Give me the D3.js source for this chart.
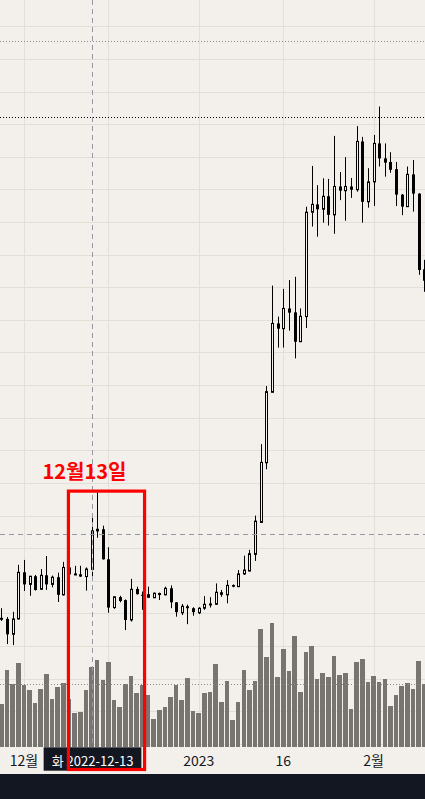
<!DOCTYPE html>
<html>
<head>
<meta charset="utf-8">
<script src="https://cdn.jsdelivr.net/npm/d3@7"></script>
<style>
  html, body { margin: 0; padding: 0; background: #f3f0eb; overflow: hidden; }
  svg { display: block; }
</style>
</head>
<body>
<svg width="425" height="799"></svg>
<script>
// daily candles, 2022-11-27 .. 2023-02-10
var firstDay = new Date(Date.UTC(2022, 10, 27));
var lastDay = new Date(Date.UTC(2023, 1, 10));

var open = [278.3,278.3,273.6,278.3,292.6,288.9,291.4,287.4,291.7,288.9,
  291.1,285.7,294.1,292.0,292.0,291.3,293.5,305.3,305.8,296.6,
  281.8,285.0,284.1,278.0,287.5,285.7,285.9,284.8,286.0,285.7,
  287.7,283.4,280.2,282.2,281.6,280.2,281.6,282.8,282.8,286.5,
  285.7,288.7,288.2,292.1,293.0,298.1,307.9,326.2,347.8,368.9,
  367.3,373.5,372.3,363.3,371.0,403.0,405.4,403.9,407.9,402.2,
  410.9,409.6,410.9,409.9,424.7,406.2,412.3,424.1,419.5,418.4,
  416.2,408.4,404.7,414.6,408.7,385.5];
var high = [281.6,278.9,280.5,294.9,296.4,291.5,291.8,293.6,297.6,291.6,
  292.5,295.8,294.2,294.6,294.6,294.1,309.7,317.1,306.9,300.3,
  285.2,285.4,284.3,290.6,288.2,286.7,288.2,286.4,286.4,288.2,
  288.6,283.5,282.9,282.7,281.9,281.9,285.3,285.0,289.2,287.2,
  290.2,288.9,293.3,297.7,299.5,310.0,331.9,349.7,380.5,371.0,
  379.5,382.2,383.2,373.5,404.7,417.2,411.3,413.4,413.2,426.4,
  415.3,419.9,413.5,429.4,426.1,416.5,426.7,435.4,424.1,421.4,
  418.4,408.6,417.0,419.0,408.8,388.4];
var low = [277.7,270.6,270.3,278.2,286.9,285.4,287.0,287.3,287.2,288.0,
  283.5,285.5,291.9,291.9,291.2,287.0,291.3,303.2,296.5,280.2,
  281.4,283.4,274.9,277.5,285.8,281.1,284.8,284.7,284.1,285.6,
  281.6,279.0,279.5,276.7,279.3,279.8,281.1,281.8,282.7,285.1,
  283.1,288.0,288.1,291.8,292.9,296.1,307.9,324.2,347.7,361.5,
  361.5,366.7,358.2,363.2,367.5,398.6,395.5,399.8,398.9,396.4,
  406.7,400.4,407.4,409.3,399.8,404.4,404.9,417.0,413.9,415.1,
  404.9,402.1,404.6,403.2,383.8,378.6];
var close = [278.5,273.6,278.3,292.6,288.9,291.4,287.2,291.7,288.9,291.1,
  285.7,294.1,292.0,292.1,291.3,293.6,305.3,305.8,296.6,281.8,
  285.1,283.8,278.0,287.4,285.9,285.6,284.8,286.2,286.1,287.7,
  283.4,280.4,282.2,281.6,280.4,281.6,282.8,282.9,286.5,285.7,
  288.6,288.2,292.1,293.3,298.3,308.3,326.3,348.0,368.9,367.3,
  373.5,372.2,363.3,371.1,403.0,405.4,403.9,407.9,402.2,410.9,
  409.6,410.9,409.9,424.7,406.2,412.3,424.1,419.5,418.2,416.0,
  408.4,404.7,414.6,408.7,385.3,382.0];
// volume, thousands
var volume = [42.7,76.7,63.0,83.7,61.7,56.7,43.7,57.7,72.7,47.7,
  59.7,64.0,47.7,33.7,34.7,56.7,79.7,86.7,66.7,84.7,
  46.7,39.7,62.7,70.7,53.7,61.7,51.7,27.7,36.7,39.7,
  49.7,61.7,46.7,68.7,35.7,33.7,53.7,54.7,82.7,44.7,
  65.7,26.7,44.7,76.7,56.7,65.7,117.7,89.7,123.7,69.7,
  97.7,75.7,110.7,54.7,94.7,100.7,67.7,73.7,69.7,90.7,
  71.7,73.7,37.7,84.7,87.7,64.7,70.7,64.7,67.7,40.7,
  51.7,60.7,63.7,57.7,85.7,62.7];

// vertical grid lines; the Dec 16 label sits under the crosshair label
var gridDates = ["2022-12-01", "2022-12-16", "2023-01-01", "2023-01-16", "2023-02-01"];
var tickDates = ["2022-12-01", "2023-01-01", "2023-01-16", "2023-02-01"];
var tickLabels = ["12월", "2023", "16", "2월"];

var levelGray = 455.4;    // dotted lines
var levelBlack = 432.1;
var crossDate = "2022-12-13";
var crossPrice = 304.2;
var crossDay = "화";
var crossLabel = "2022-12-13";
var noteText = "12월13일";
var noteFrom = 11.9, noteTo = 25.4, noteTop = 317.5;   // in day index / price

var svg = d3.select("svg");
var width = +svg.attr("width");
var height = +svg.attr("height");
var bg = "#f3f0eb";
var plotBottom = 746.7;
var axisBottom = 774;
var parse = d3.utcParse("%Y-%m-%d");
var axisFont = "'Liberation Sans Narrow', 'Noto Sans CJK KR', sans-serif";

var days = d3.utcDay.range(firstDay, d3.utcDay.offset(lastDay, 1));
var candles = days.map(function(d, i) {
  return {date: d, o: open[i], h: high[i], l: low[i], c: close[i], v: volume[i]};
});

var x = d3.scaleUtc().domain([firstDay, lastDay]).range([1.3, 424.3]);
var y = d3.scaleLinear().domain([240, 460]).range([743.9, 26.3]);
var yv = d3.scaleLinear().domain([0, 100]).range([plotBottom, 646.7]);
var px = function(d) { return Math.round(x(d)); };

svg.append("rect").attr("width", width).attr("height", height).attr("fill", bg);

// grid
svg.append("g")
  .selectAll("line")
  .data(d3.range(240, 470, 10))
  .enter().append("line")
  .attr("x1", 0).attr("x2", width)
  .attr("y1", function(d) { return Math.round(y(d)) + 0.5; })
  .attr("y2", function(d) { return Math.round(y(d)) + 0.5; })
  .attr("stroke", "#e2ded8");

svg.append("g")
  .selectAll("line")
  .data(gridDates)
  .enter().append("line")
  .attr("x1", function(d) { return px(parse(d)) + 0.5; })
  .attr("x2", function(d) { return px(parse(d)) + 0.5; })
  .attr("y1", 0).attr("y2", plotBottom)
  .attr("stroke", "#e2ded8");

// volume
svg.append("g")
  .selectAll("rect")
  .data(candles)
  .enter().append("rect")
  .attr("x", function(d) { return x(d.date) - 2.3; })
  .attr("width", 4.6)
  .attr("y", function(d) { return yv(d.v); })
  .attr("height", function(d) { return plotBottom - yv(d.v); })
  .attr("fill", "#787571")
  .attr("shape-rendering", "crispEdges");

svg.append("line")
  .attr("x1", 0).attr("x2", width)
  .attr("y1", Math.round(yv(volume[volume.length - 1])) + 0.5)
  .attr("y2", Math.round(yv(volume[volume.length - 1])) + 0.5)
  .attr("stroke", "#8c8a86")
  .attr("stroke-dasharray", "1,2");

// candles
var candle = svg.append("g")
  .selectAll("g")
  .data(candles)
  .enter().append("g");

candle.append("line")
  .attr("x1", function(d) { return px(d.date) + 0.5; })
  .attr("x2", function(d) { return px(d.date) + 0.5; })
  .attr("y1", function(d) { return y(d.h); })
  .attr("y2", function(d) { return y(d.l); })
  .attr("stroke", "#000");

candle.append("rect")
  .attr("x", function(d) { return d.c >= d.o ? px(d.date) - 0.5 : px(d.date) - 1; })
  .attr("width", function(d) { return d.c >= d.o ? 2 : 3; })
  .attr("y", function(d) { return y(Math.max(d.o, d.c)); })
  .attr("height", function(d) { return Math.max(1, Math.abs(y(d.o) - y(d.c))); })
  .attr("fill", function(d) { return d.c >= d.o ? bg : "#000"; })
  .attr("stroke", function(d) { return d.c >= d.o ? "#000" : "none"; })
  .attr("stroke-width", 1);

// horizontal dotted levels
svg.append("line")
  .attr("x1", 0).attr("x2", width)
  .attr("y1", Math.round(y(levelGray)) + 0.5).attr("y2", Math.round(y(levelGray)) + 0.5)
  .attr("stroke", "#8a8a8a")
  .attr("stroke-dasharray", "1,2");

svg.append("line")
  .attr("x1", 0).attr("x2", width)
  .attr("y1", Math.round(y(levelBlack)) + 0.5).attr("y2", Math.round(y(levelBlack)) + 0.5)
  .attr("stroke", "#000")
  .attr("stroke-dasharray", "1,2");

// crosshair
var cx = px(parse(crossDate)) + 0.5;
svg.append("line")
  .attr("x1", cx).attr("x2", cx)
  .attr("y1", 0).attr("y2", plotBottom)
  .attr("stroke", "#9598a1")
  .attr("stroke-dasharray", "5,4");
svg.append("line")
  .attr("x1", 0).attr("x2", width)
  .attr("y1", Math.round(y(crossPrice)) + 0.5).attr("y2", Math.round(y(crossPrice)) + 0.5)
  .attr("stroke", "#9598a1")
  .attr("stroke-dasharray", "5,4");

// time axis
svg.append("rect")
  .attr("x", 0).attr("y", axisBottom)
  .attr("width", width).attr("height", height - axisBottom)
  .attr("fill", "#131722");

svg.append("g")
  .selectAll("text")
  .data(tickDates)
  .enter().append("text")
  .attr("x", function(d) { return x(parse(d)); })
  .attr("y", 766)
  .attr("text-anchor", "middle")
  .style("font-family", axisFont)
  .style("font-size", "14px")
  .attr("fill", "#131722")
  .text(function(d, i) { return tickLabels[i]; });

var crossBox = svg.append("rect")
  .attr("y", 747.3)
  .attr("height", 23.4)
  .attr("fill", "#131722");
var crossText = svg.append("text")
  .attr("x", cx)
  .attr("y", 765.5)
  .attr("text-anchor", "middle")
  .style("font-family", axisFont)
  .style("font-size", "13px")
  .attr("fill", "#fff");
crossText.append("tspan").text(crossDay);
crossText.append("tspan").attr("dx", 3).text(crossLabel);
var tw = crossText.node().getComputedTextLength() + 3;
crossBox.attr("x", cx - tw / 2 - 8).attr("width", tw + 16);

// annotation
var dayMs = 864e5;
var bx0 = x(new Date(+firstDay + noteFrom * dayMs));
var bx1 = x(new Date(+firstDay + noteTo * dayMs));
svg.append("rect")
  .attr("x", bx0).attr("y", y(noteTop))
  .attr("width", bx1 - bx0)
  .attr("height", axisBottom - 4.5 - y(noteTop))
  .attr("fill", "none")
  .attr("stroke", "#ff0000")
  .attr("stroke-width", 3.2);

svg.append("text")
  .attr("x", (bx0 + bx1) / 2 - 22)
  .attr("y", y(noteTop) - 12)
  .attr("text-anchor", "middle")
  .style("font-family", "'Noto Sans CJK KR', sans-serif")
  .style("font-weight", "bold")
  .style("font-size", "20px")
  .attr("fill", "#ff0000")
  .text(noteText);
</script>
</body>
</html>
